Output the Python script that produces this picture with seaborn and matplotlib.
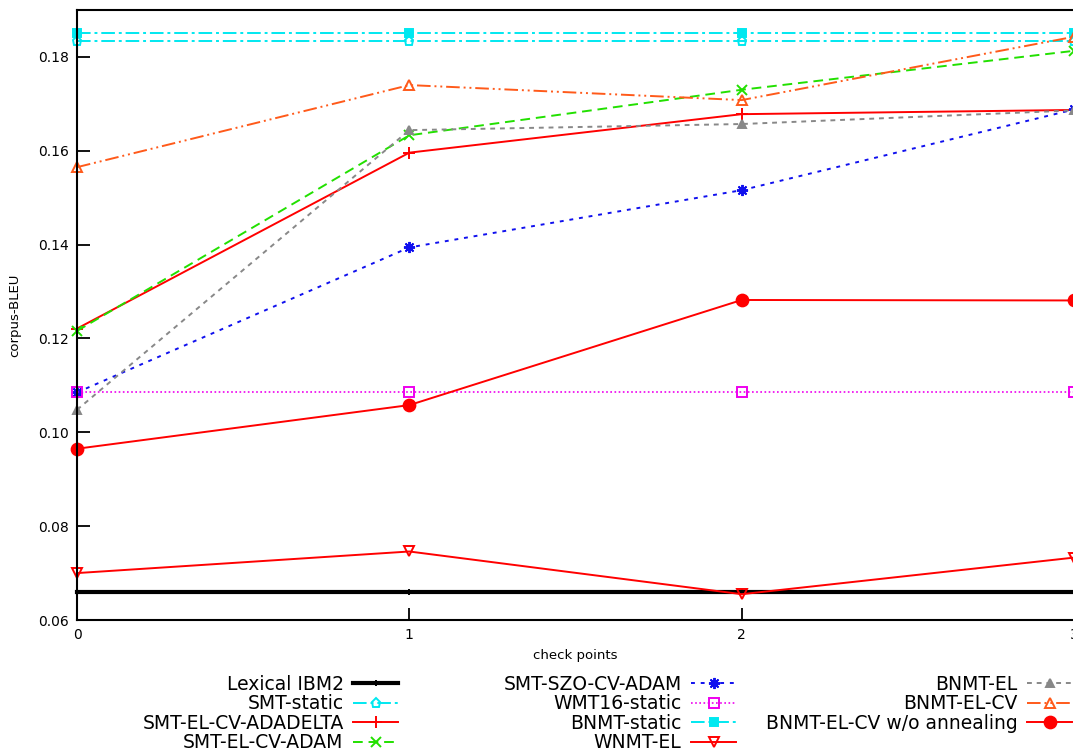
import numpy as np
import pandas as pd
import seaborn as sns
import matplotlib.pyplot as plt

# check points on the x axis
checkpoints = [0, 1, 2, 3]

# corpus-BLEU per system
lexical_ibm2 = [0.0660, 0.0660, 0.0660, 0.0660]
smt_static = [0.1835, 0.1835, 0.1835, 0.1835]
smt_el_cv_adadelta = [0.1221, 0.1596, 0.1678, 0.1687]
smt_el_cv_adam = [0.1216, 0.1633, 0.1730, 0.1813]
smt_szo_cv_adam = [0.1085, 0.1394, 0.1516, 0.1688]
wmt16_static = [0.1086, 0.1086, 0.1086, 0.1086]
bnmt_static = [0.1851, 0.1851, 0.1851, 0.1851]
wnmt_el = [0.0700, 0.0746, 0.0655, 0.0733]
bnmt_el = [0.1048, 0.1644, 0.1657, 0.1686]
bnmt_el_cv = [0.1565, 0.1740, 0.1708, 0.1843]
bnmt_el_cv_noanneal = [0.0965, 0.1058, 0.1282, 0.1281]

yticks = [0.06, 0.08, 0.10, 0.12, 0.14, 0.16, 0.18]

asterisk = (8, 2, 0)

# name, values, color, dashes, marker, filled, markersize, linewidth
series = [
    ("Lexical IBM2", lexical_ibm2, "black", None, "|", True, 4, 3.0),
    ("SMT-static", smt_static, "#00e8f0", (7, 2, 1.5, 2), "p", False, 6.5, 1.4),
    ("SMT-EL-CV-ADADELTA", smt_el_cv_adadelta, "red", None, "+", True, 8, 1.4),
    ("SMT-EL-CV-ADAM", smt_el_cv_adam, "#22e000", (5, 3), "x", True, 7, 1.4),
    ("SMT-SZO-CV-ADAM", smt_szo_cv_adam, "#1010ee", (2, 3), asterisk, True, 8, 1.4),
    ("WMT16-static", wmt16_static, "#ee00ee", (1, 1.5), "s", False, 6.5, 1.2),
    ("BNMT-static", bnmt_static, "#00e8f0", (7, 2, 1.5, 2), "s", True, 6, 1.4),
    ("WNMT-EL", wnmt_el, "red", None, "v", False, 7, 1.4),
    ("BNMT-EL", bnmt_el, "#888888", (2.5, 2.5), "^", True, 6, 1.4),
    ("BNMT-EL-CV", bnmt_el_cv, "#ff5a1a", (7, 2, 1, 2, 1, 2), "^", False, 7.5, 1.4),
    ("BNMT-EL-CV w/o annealing", bnmt_el_cv_noanneal, "red", None, "o", True, 8.5, 1.4),
]

fig = plt.figure(figsize=(10.73, 7.53), dpi=100)
ax = fig.add_axes([77 / 1073, 1 - 620 / 753, 1 - 77 / 1073 + 0.001, 610 / 753])

handles = []
for name, vals, col, dash, mk, filled, ms, lw in series:
    df = pd.DataFrame({"check": checkpoints, "bleu": vals})
    kw = dict(color=col, marker=mk, markersize=ms, linewidth=lw,
              markeredgecolor=col, markeredgewidth=1.4)
    kw["markerfacecolor"] = col if filled else "none"
    if dash is not None:
        kw["dashes"] = dash
    sns.lineplot(data=df, x="check", y="bleu", ax=ax, legend=False, **kw)
    ln = ax.lines[-1]
    ln.set_clip_on(False)
    handles.append(ln)

ax.set_xlim(0, 3)
ax.set_ylim(0.06, 0.19)
ax.set_xticks(checkpoints)
ax.set_yticks(yticks)
ax.set_yticklabels([f"{t:.2f}" for t in yticks])
ax.tick_params(direction="in", length=9, width=1.3, labelsize=10, pad=6)
for s in ax.spines.values():
    s.set_linewidth(1.5)
ax.set_xlabel("check points", fontsize=9.5, labelpad=5)
ax.set_ylabel("corpus-BLEU", fontsize=9.5, labelpad=12)

labels = [s[0] for s in series]
cols = [(0, 4, 398), (4, 8, 736), (8, 11, 1072)]
for a, b, xr in cols:
    fig.legend(handles[a:b], labels[a:b], loc="upper right",
               bbox_to_anchor=(xr / 1073, 1 - 675 / 753), bbox_transform=fig.transFigure,
               frameon=False, markerfirst=False, numpoints=1, fontsize=13.5,
               handlelength=2.4, handletextpad=0.5, labelspacing=0.02,
               borderpad=0, borderaxespad=0)

fig.savefig("out.png", dpi=100)
